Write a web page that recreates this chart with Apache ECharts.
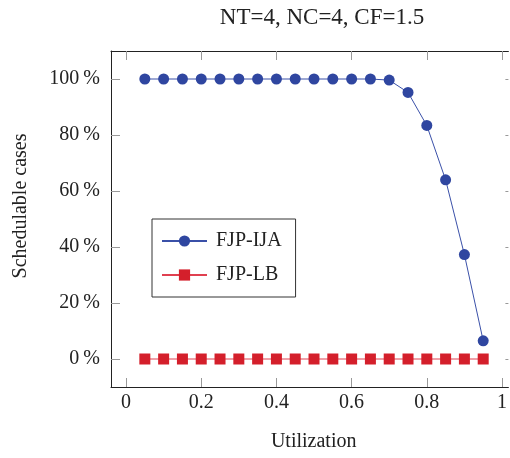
<!DOCTYPE html>
<html>
<head>
<meta charset="utf-8">
<script src="https://cdn.jsdelivr.net/npm/echarts@6/dist/echarts.min.js"></script>
<style>
  html, body { margin: 0; padding: 0; background: #fff; }
  #main { width: 510px; height: 458px; }
</style>
</head>
<body>
<div id="main"></div>
<script>
// utilization steps and schedulability ratios (%)
const utilization = [0.05, 0.1, 0.15, 0.2, 0.25, 0.3, 0.35, 0.4, 0.45, 0.5,
  0.55, 0.6, 0.65, 0.7, 0.75, 0.8, 0.85, 0.9, 0.95];
const ijaValues = [100, 100, 100, 100, 100, 100, 100, 100, 100, 100,
  100, 100, 100, 99.6, 95.2, 83.4, 64, 37.3, 6.5];
const lbValues = [0, 0, 0, 0, 0, 0, 0, 0, 0, 0,
  0, 0, 0, 0, 0, 0, 0, 0, 0];
const xTicks = [0, 0.2, 0.4, 0.6, 0.8, 1];
const yTicks = [0, 20, 40, 60, 80, 100];

const font = 'Liberation Serif';
const myChart = echarts.init(document.getElementById('main'));

const zip = (xs, ys) => xs.map((x, i) => [x, ys[i]]);

// the original plot box runs past the right edge of the picture,
// so the x range stops where the image is cut off
const xMin = -0.04, xMax = 1.017;

const tickStyle = { show: true, inside: true, length: 9, lineStyle: { color: '#999' } };
const lineStyle = { onZero: false, lineStyle: { color: '#222', width: 1 } };

const option = {
  animation: false,
  textStyle: { fontFamily: font },
  title: {
    text: 'NT=4, NC=4, CF=1.5',
    left: 317, top: 1, textAlign: 'center',
    textStyle: { fontFamily: font, fontSize: 23, fontWeight: 'normal', color: '#222' }
  },
  grid: { left: 111, top: 51, right: 0, bottom: 71 },
  legend: {
    orient: 'vertical',
    left: 152, top: 219,
    padding: [12, 14, 12, 9],
    itemGap: 14,
    itemWidth: 45,
    itemHeight: 14,
    borderColor: '#333',
    borderWidth: 1,
    textStyle: { fontFamily: font, fontSize: 20, color: '#222', padding: [0, 0, 0, 4] },
    data: ['FJP-IJA', 'FJP-LB']
  },
  xAxis: [{
    type: 'value', min: xMin, max: xMax,
    name: 'Utilization', nameLocation: 'middle', nameGap: 45,
    nameTextStyle: { fontFamily: font, fontSize: 20, color: '#222', padding: [0, 0, 0, 8] },
    axisLine: lineStyle,
    axisTick: Object.assign({ customValues: xTicks }, tickStyle),
    axisLabel: { customValues: xTicks, margin: 6, fontSize: 20, color: '#222', fontFamily: font },
    splitLine: { show: false }
  }, {
    type: 'value', position: 'top', min: xMin, max: xMax,
    axisLine: lineStyle,
    axisTick: Object.assign({ customValues: xTicks }, tickStyle),
    axisLabel: { show: false },
    splitLine: { show: false }
  }],
  yAxis: [{
    type: 'value', min: -10, max: 110,
    name: 'Schedulable cases', nameLocation: 'middle', nameGap: 80, nameRotate: 90,
    nameTextStyle: { fontFamily: font, fontSize: 20, color: '#222', padding: [0, 0, 0, 26] },
    axisLine: lineStyle,
    axisTick: Object.assign({ customValues: yTicks }, tickStyle),
    axisLabel: {
      customValues: yTicks, margin: 11, fontSize: 20, color: '#222', fontFamily: font,
      formatter: v => v + '\u2009%'
    },
    splitLine: { show: false }
  }, {
    type: 'value', position: 'right', min: -10, max: 110,
    axisLine: { show: false, onZero: false },
    axisTick: { show: true, inside: true, length: 3, customValues: yTicks, lineStyle: { color: '#999' } },
    axisLabel: { show: false },
    splitLine: { show: false }
  }],
  series: [
    {
      name: 'FJP-IJA',
      type: 'line',
      data: zip(utilization, ijaValues),
      symbol: 'circle',
      symbolSize: 11,
      itemStyle: { color: '#2f46a0' },
      lineStyle: { color: '#3a50a8', width: 1 }
    },
    {
      name: 'FJP-LB',
      type: 'line',
      data: zip(utilization, lbValues),
      symbol: 'rect',
      symbolSize: 11,
      itemStyle: { color: '#d41f2b' },
      lineStyle: { color: '#e04050', width: 1 }
    }
  ]
};

myChart.setOption(option);
</script>
</body>
</html>
